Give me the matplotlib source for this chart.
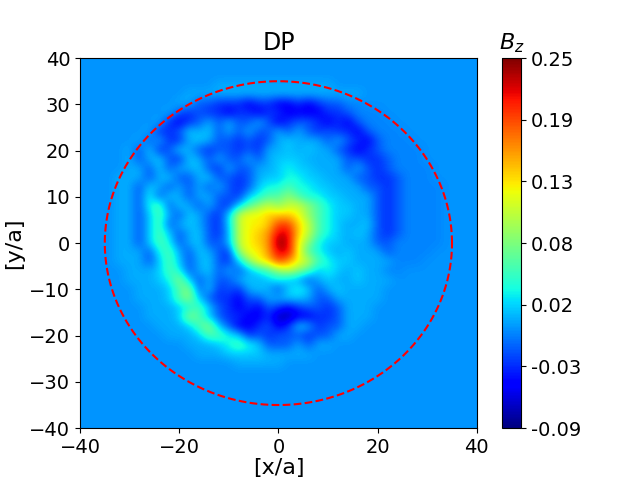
import numpy as np
import matplotlib
matplotlib.use("Agg")
import matplotlib.pyplot as plt

# B_z sampled on a 2-unit grid, x = -40..40 (columns), y = 40..-40 (rows)
# each letter is a colour level read off the picture
level_values = {
    'a': -0.075, 'b': -0.052, 'c': -0.032, 'd': -0.018, 'e': -0.003,
    'f': 0.002, 'g': 0.010, 'h': 0.020, 'i': 0.037, 'j': 0.060,
    'k': 0.087, 'l': 0.110, 'm': 0.130, 'n': 0.145, 'o': 0.165,
    'p': 0.195, 'q': 0.222, 'r': 0.250,
}

bz_rows = [
    "fffffffffffffffffffffffffffffffffffffffff",  # y = 40
    "fffffffffffffffffffffffffffffffffffffffff",
    "fffffffffffffffffffffffffffffffffffffffff",
    "ffffffffffffffggggggggggggfffffffffffffff",
    "fffffffffffggggggggggggggggggffffffffffff",
    "ffffffffffggddcccbccbbcbcddeeffffffffffff",  # y = 30
    "fffffffffgdcdccbccbccbbbbccdeeeffffffffff",
    "ffffffffgcbcdgdgddgdbcddcbcbdeeefffffffff",
    "fffffffgccdhghdgdgddgdgdcdccbdeeeffffffff",
    "ffffffgdgccghgddcdcdghgggdgdcbdeeefffffff",
    "fffffgdhcdhgdcddcdcgghghggdcbcdeeeeffffff",  # y = 20
    "fffffgdghdchgdgddgdghhhggggddccdeeeffffff",
    "fffffggdhdgghdcgddgghihhgggdgdcdeeeefffff",
    "ffffgggdghddghddcdghhiihhgggddccdeeefffff",
    "ffffggdhgdgdgdgdcdhiijiihhgggddcdeeeeffff",
    "ffffggdidhgdggddchijjkjiihhgggdcdeeeeffff",  # y = 10
    "ffffggdijdhgdgdchjklkllkjihhggdcdeeeeffff",
    "ffffggdhjgdhgdchlmmnnnmkjihhggdcdeeeeffff",
    "ffffggdhjdghgdchlmmnppnljihgghdcdeeeeffff",
    "ffffggdhjhdghdcglmnoqqnljihghgdcdeeeeffff",
    "ffffggdhjidghddglmnorqmkihhgggddeeeeeffff",  # y = 0
    "ffffgggdijgdhgdckmmoqqmjihghgggdeeeefffff",
    "ffffgggdhjhdghdchkmnpomljihhggggeeeffffff",
    "fffffggghjidghdgdgijklkjhihghggeeffffffff",
    "fffffggghikhdgddghghihgdghgghgggfffffffff",
    "ffffffggghjkdhcdcghgdhihdghggggffffffffff",  # y = -10
    "ffffffggghjkhdccbddgghhgddgggggffffffffff",
    "fffffffggghijhdcbcbdcbcddcdgggfffffffffff",
    "fffffffggghkjhdccbbcaabbccdgggfffffffffff",
    "ffffffffggghjkhdbbcdbchgcddggffffffffffff",
    "fffffffffggghjjihcdcdddcddggfffffffffffff",  # y = -20
    "fffffffffffggghijihdddgdggfffffffffffffff",
    "ffffffffffffggghhhhgggggfffffffffffffffff",
    "ffffffffffffffffgggggffffffffffffffffffff",
    "fffffffffffffffffffffffffffffffffffffffff",
    "fffffffffffffffffffffffffffffffffffffffff",  # y = -30
    "fffffffffffffffffffffffffffffffffffffffff",
    "fffffffffffffffffffffffffffffffffffffffff",
    "fffffffffffffffffffffffffffffffffffffffff",
    "fffffffffffffffffffffffffffffffffffffffff",
    "fffffffffffffffffffffffffffffffffffffffff",  # y = -40
]

cbar_ticks = [-0.09, -0.0333, 0.0233, 0.08, 0.1367, 0.1933, 0.25]
cbar_labels = ['-0.09', '-0.03', '0.02', '0.08', '0.13', '0.19', '0.25']
circle_radius = 35

field = np.array([[level_values[ch] for ch in row] for row in bz_rows])

fig = plt.figure(figsize=(6.4, 4.8), dpi=100)
ax = fig.add_axes([0.125, 0.108, 0.62, 0.771])
cax = fig.add_axes([0.785, 0.108, 0.029, 0.771])

im = ax.imshow(field, cmap='jet', vmin=-0.09, vmax=0.25,
               extent=[-41, 41, -41, 41], origin='upper',
               interpolation='bicubic', aspect='auto')

theta = np.linspace(0, 2 * np.pi, 400)
ax.plot(circle_radius * np.cos(theta), circle_radius * np.sin(theta),
        'r--', lw=1.5)

ax.set_xlim(-40, 40)
ax.set_ylim(-40, 40)
ax.set_xticks([-40, -20, 0, 20, 40])
ax.set_yticks([-40, -30, -20, -10, 0, 10, 20, 30, 40])
ax.tick_params(labelsize=14)
ax.set_xlabel('[x/a]', fontsize=16, labelpad=1)
ax.set_ylabel('[y/a]', fontsize=16)
ax.set_title('DP', fontsize=17)

cb = fig.colorbar(im, cax=cax)
cb.set_ticks(cbar_ticks)
cb.set_ticklabels(cbar_labels)
cb.ax.tick_params(labelsize=14)
cax.set_title('$B_z$', fontsize=16)

fig.savefig('out.png', dpi=100)
